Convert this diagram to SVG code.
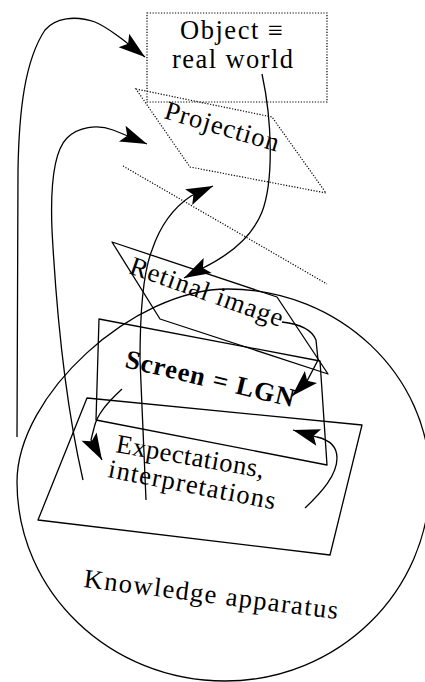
<svg xmlns="http://www.w3.org/2000/svg" width="425" height="682" viewBox="0 0 425 682">
<style>
.solid{fill:none;stroke:#000;stroke-width:1.3;stroke-linejoin:round}
.dot{fill:none;stroke:#000;stroke-width:1.2;stroke-dasharray:1.2 1.6}
.lbl{font-family:"Liberation Serif","Times New Roman",serif;font-size:26.5px;fill:#000}
.bold{font-weight:bold}
.conn{fill:none;stroke:#000;stroke-width:1.3;marker-end:url(#ah)}
</style>
<defs>
<marker id="ah" markerUnits="userSpaceOnUse" markerWidth="30" markerHeight="20" viewBox="-26 -9 28 18" refX="0" refY="0" orient="auto">
<path d="M0,0 L-25,-8 L-20,0 L-25,8 Z" fill="#000"/>
</marker>
</defs>
<rect width="425" height="682" fill="#fff"/>
<g id="node-knowledge">
<path class="solid" d="M17,482 C17,395 133,289 228,289 C339,289 430,375 430,480 C430,592 338,681 225,681 C110,681 17,592 17,482 Z"/>
<text class="lbl" transform="translate(83,587) rotate(7.2)" textLength="256" lengthAdjust="spacing">Knowledge apparatus</text>
</g>
<g id="node-object">
<rect class="dot" x="147" y="13" width="180" height="89"/>
<text class="lbl" x="180" y="39" textLength="103" lengthAdjust="spacing">Object ≡</text>
<text class="lbl" x="172" y="68" textLength="121" lengthAdjust="spacing">real world</text>
</g>
<g id="node-projection">
<polygon class="dot" points="136,89 272,117 326,193 190,167"/>
<line class="dot" x1="123" y1="166" x2="327" y2="284"/>
<text class="lbl" transform="translate(163,118) rotate(16.5)" textLength="118" lengthAdjust="spacing">Projection</text>
</g>
<g id="node-retinal">
<polygon class="solid" points="112,242 277,297 328,374 160,319"/>
<text class="lbl" transform="translate(128,273) rotate(19.6)" textLength="161" lengthAdjust="spacing">Retinal image</text>
</g>
<g id="node-screen">
<polygon class="solid" points="99,319 320,361 327,465 96,420"/>
<text class="lbl bold" transform="translate(124,367) rotate(13.4)" textLength="173" lengthAdjust="spacing">Screen = LGN</text>
</g>
<g id="node-expectations">
<polygon class="solid" points="87,398 362,425 330,555 38,520"/>
<text class="lbl" transform="translate(115,452) rotate(10)" textLength="150" lengthAdjust="spacing">Expectations,</text>
<text class="lbl" transform="translate(107,477) rotate(11)" textLength="170" lengthAdjust="spacing">interpretations</text>
</g>
<g id="connectors">
<path class="conn" d="M17,437 L18,170 C19,110 25,60 45,30 C55,18 75,15 95,22 C105,26 112,32 122,39 L145,57"/>
<path class="conn" d="M83,480 Q60,380 52,230 C50,180 55,150 67,138 C78,127 97,124 113,130 L123,134 L147,144"/>
<path class="conn" d="M146,500 L140,360 C140,310 144,270 152,250 C158,232 170,210 191,196 L213,186"/>
<path class="conn" d="M262,74 C272,120 274,180 262,212 C252,237 230,255 201,269 L184,278"/>
<path class="conn" d="M282,322 C300,324 312,330 316,340 L318,360 L307,381 L292,396"/>
<path class="conn" d="M122,389 C108,402 97,414 94,428 L91,440 L102,460"/>
<path class="conn" d="M305,508 C322,492 337,475 337,458 C337,446 330,440 317,437 L293,430"/>
</g>
</svg>
